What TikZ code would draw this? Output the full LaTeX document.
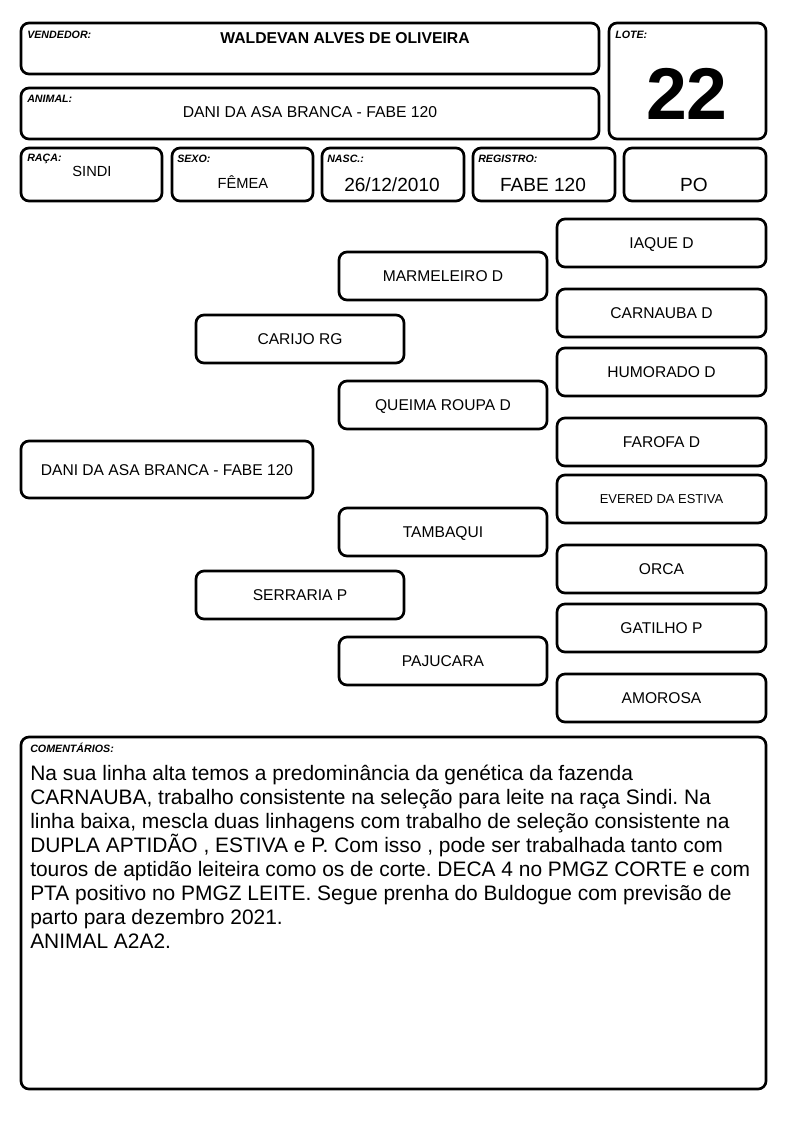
\documentclass[tikz,border=0pt]{standalone}
\usepackage{fontspec}
\setmainfont{Liberation Sans}
\usetikzlibrary{calc}
\frenchspacing
\tikzset{
	caixa/.style={line width=2pt, rounded corners=6pt},
	rotulo/.style={font=\fontsize{8}{9}\selectfont\bfseries\itshape, anchor=base west, inner sep=0pt},
	dado/.style={anchor=base, inner sep=0pt},
	nome/.style={font=\fontsize{11.7}{14}\selectfont, anchor=base, inner sep=0pt},
}
% caixa com nome centrado
\def\ficha(#1,#2)(#3,#4)#5#6{\draw[caixa] (#1,#2) rectangle (#3,#4); \node[nome] (#5) at ({(#1+#3)/2},{(#2+#4)/2+5.6}) {#6};}

\begin{document}
\begin{tikzpicture}[x=0.75pt,y=-0.75pt]
		\useasboundingbox (0,0) rectangle (794,1123);
		%%%%% CABECALHO %%%%%
		
		\draw[caixa] (21,23) rectangle (599,74);
		\node[rotulo] (vendedor) at (27,39) {VENDEDOR:};
		\node[dado, font=\fontsize{11.8}{14}\selectfont\bfseries] (nomevendedor) at (345,44) {WALDEVAN ALVES DE OLIVEIRA};
		
		\draw[caixa] (609,23) rectangle (766,139);
		\node[rotulo] (lote) at (615,39) {LOTE:};
		\node[dado, font=\fontsize{55}{60}\selectfont\bfseries] (numlote) at (687,120) {22};
		
		\draw[caixa] (21,88) rectangle (599,139);
		\node[rotulo] (animal) at (27,103) {ANIMAL:};
		\node[dado, font=\fontsize{11.8}{14}\selectfont] (nomeanimal) at (310,118) {DANI DA ASA BRANCA - FABE 120};
		
		\draw[caixa] (21,148) rectangle (162,201);
		\node[rotulo] (raca) at (27,162) {RAÇA:};
		\node[dado, font=\fontsize{11}{13}\selectfont] (sindi) at (92,177) {SINDI};
		
		\draw[caixa] (172,148) rectangle (313,201);
		\node[rotulo] (sexo) at (177,163) {SEXO:};
		\node[dado, font=\fontsize{11}{13}\selectfont] (femea) at (243,189) {FÊMEA};
		
		\draw[caixa] (322,148) rectangle (464,201);
		\node[rotulo] (nasc) at (327,163) {NASC.:};
		\node[dado, font=\fontsize{14.3}{17}\selectfont] (data) at (392,192) {26/12/2010};
		
		\draw[caixa] (473,148) rectangle (615,201);
		\node[rotulo] (registro) at (478,163) {REGISTRO:};
		\node[dado, font=\fontsize{14.3}{17}\selectfont] (numreg) at (543,192) {FABE 120};
		
		\draw[caixa] (624,148) rectangle (766,201);
		\node[dado, font=\fontsize{14.3}{17}\selectfont] (po) at (694,192) {PO};
		
		%%%%% GENEALOGIA %%%%%
		
		\ficha(21,441)(313,498){dani}{DANI DA ASA BRANCA - FABE 120}
		
		\ficha(196,315)(404,363){pai}{CARIJO RG}
		\ficha(196,571)(404,619){mae}{SERRARIA P}
		
		\ficha(339,252)(547,300){avopp}{MARMELEIRO D}
		\ficha(339,381)(547,429){avopm}{QUEIMA ROUPA D}
		\ficha(339,508)(547,556){avomp}{TAMBAQUI}
		\ficha(339,637)(547,685){avomm}{PAJUCARA}
		
		\ficha(557,219)(766,267){bis1}{IAQUE D}
		\ficha(557,289)(766,337){bis2}{CARNAUBA D}
		\ficha(557,348)(766,396){bis3}{HUMORADO D}
		\ficha(557,418)(766,466){bis4}{FAROFA D}
		\draw[caixa] (557,475) rectangle (766,523);
		\node[nome, font=\fontsize{9.7}{12}\selectfont] (bis5) at (661.5,503.6) {EVERED DA ESTIVA};
		\ficha(557,545)(766,593){bis6}{ORCA}
		\ficha(557,604)(766,652){bis7}{GATILHO P}
		\ficha(557,674)(766,722){bis8}{AMOROSA}
		
		%%%%% COMENTARIOS %%%%%
		
		\draw[caixa] (21,737) rectangle (766,1089);
		\node[rotulo] (comentarios) at (30,752) {COMENTÁRIOS:};
		\node[anchor=north west, inner sep=0pt, align=left, font=\fontsize{15.7}{18}\selectfont] (texto) at (30,765) {Na sua linha alta temos a predominância da genética da fazenda\\
			CARNAUBA, trabalho consistente na seleção para leite na raça Sindi. Na\\
			linha baixa, mescla duas linhagens com trabalho de seleção consistente na\\
			DUPLA APTIDÃO , ESTIVA e P. Com isso , pode ser trabalhada tanto com\\
			touros de aptidão leiteira como os de corte. DECA 4 no PMGZ CORTE e com\\
			PTA positivo no PMGZ LEITE. Segue prenha do Buldogue com previsão de\\
			parto para dezembro 2021.\\
			ANIMAL A2A2.};
		
		%%%%% FIM %%%%%
	\end{tikzpicture}
\end{document}
